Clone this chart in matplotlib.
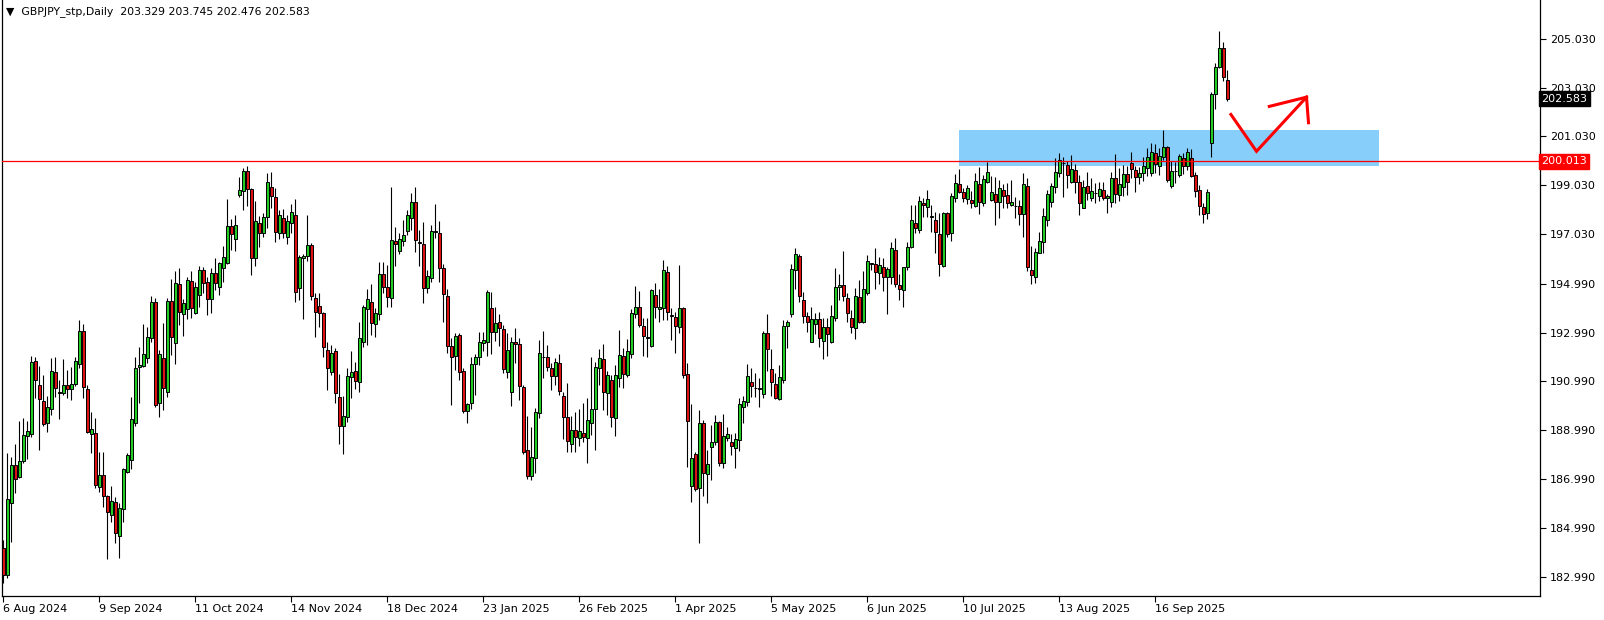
import matplotlib
matplotlib.use('Agg')
import matplotlib.pyplot as plt
import matplotlib.transforms as mtransforms
from matplotlib.patches import Rectangle
import numpy as np

symbol_title = '\u25bc  GBPJPY_stp,Daily  203.329 203.745 202.476 202.583'

# daily candles, 6 Aug 2024 .. 10 Oct 2025
opens = [
    184.16, 183.06, 186.00, 187.57, 187.06, 187.75, 188.77, 188.83, 191.82, 190.83,
    190.19, 189.28, 189.85, 191.38, 190.56, 190.51, 190.83, 190.67, 190.87, 191.69,
    193.06, 190.67, 188.83, 188.87, 186.65, 187.16, 186.30, 185.52, 186.05, 184.66,
    185.75, 187.28, 187.77, 189.28, 191.60, 191.63, 191.94, 192.76, 194.26, 190.10,
    191.94, 190.57, 194.29, 192.58, 194.97, 193.74, 193.95, 195.11, 193.81, 194.53,
    195.56, 195.05, 194.36, 195.42, 194.88, 195.63, 195.86, 197.36, 196.84, 198.65,
    198.81, 199.62, 198.86, 196.06, 197.50, 197.09, 197.72, 198.95, 198.54, 197.06,
    197.67, 196.92, 197.47, 197.81, 194.81, 196.04, 196.13, 196.58, 194.40, 194.08,
    193.78, 192.28, 191.39, 192.24, 190.34, 189.18, 189.55, 191.19, 191.42, 190.98,
    192.62, 193.95, 194.26, 193.33, 193.74, 195.38, 194.88, 194.40, 196.75, 196.35,
    196.76, 197.17, 197.67, 198.33, 196.70, 196.62, 194.81, 195.21, 197.13, 197.06,
    195.63, 194.51, 192.44, 192.05, 192.90, 191.42, 189.80, 190.10, 191.69, 191.98,
    192.58, 192.60, 193.99, 193.03, 193.41, 193.13, 191.39, 190.57, 192.59, 192.51,
    190.78, 188.18, 187.10, 187.84, 189.68, 191.98, 191.98, 191.53, 191.23, 191.73,
    190.40, 189.52, 188.41, 189.00, 188.66, 188.88, 188.66, 189.30, 189.85, 191.53,
    191.91, 190.50, 191.05, 189.48, 191.15, 192.03, 191.26, 192.10, 193.74, 194.03,
    193.28, 192.80, 192.44, 194.53, 193.95, 193.99, 195.46, 193.69, 193.65, 193.21,
    193.99, 191.28, 186.72, 188.01, 186.61, 189.28, 187.18, 188.29, 188.53, 189.32,
    187.64, 188.66, 188.53, 188.28, 188.59, 189.96, 190.16, 190.95, 190.74, 190.71,
    190.46, 192.96, 191.49, 190.87, 190.26, 191.05, 193.26, 193.75, 195.56, 196.13,
    194.33, 193.67, 192.62, 193.33, 193.54, 192.66, 193.21, 192.60, 193.58, 194.85,
    194.94, 194.40, 193.58, 193.17, 194.44, 193.44, 194.60, 195.82, 195.81, 195.42,
    195.66, 195.28, 195.26, 196.38, 194.94, 194.74, 195.67, 196.49, 197.50, 197.20,
    198.32, 198.12, 197.74, 197.61, 197.03, 195.72, 197.88, 197.06, 198.49, 199.07,
    198.77, 198.47, 198.43, 198.18, 199.07, 198.29, 199.15, 198.43, 198.66, 198.36,
    198.84, 198.63, 198.22, 198.18, 198.18, 197.84, 198.99, 195.56, 195.28, 196.27,
    196.72, 197.61, 198.36, 198.97, 199.52, 199.93, 199.86, 199.18, 199.66, 199.18,
    198.11, 198.99, 198.50, 198.70, 198.59, 198.84, 198.49, 198.36, 199.31, 198.63,
    198.97, 199.49, 199.93, 199.66, 199.38, 199.52, 199.75, 199.52, 200.34, 199.83,
    200.20, 200.58, 199.01, 199.61, 199.45, 200.13, 199.83, 200.13, 199.45, 198.83,
    198.13, 197.88, 200.78, 202.77, 203.86, 204.64, 203.329,
]
highs = [
    184.50, 188.05, 187.91, 188.43, 189.35, 189.51, 189.35, 192.04, 192.01, 191.64,
    191.26, 190.40, 191.94, 192.01, 191.05, 191.90, 191.46, 191.60, 192.01, 193.51,
    193.35, 190.85, 189.75, 189.48, 188.12, 188.12, 186.34, 186.71, 186.27, 186.00,
    187.43, 188.05, 190.37, 192.01, 192.42, 193.33, 193.21, 194.50, 194.40, 192.28,
    193.37, 194.43, 195.18, 195.52, 195.63, 194.36, 195.29, 195.52, 195.08, 195.72,
    195.70, 195.29, 195.63, 196.04, 195.90, 196.54, 198.47, 197.63, 197.81, 199.38,
    199.73, 199.82, 198.90, 198.39, 197.77, 197.88, 199.52, 199.56, 198.90, 198.02,
    198.04, 197.81, 198.25, 198.47, 196.17, 196.20, 197.81, 196.65, 194.60, 194.60,
    193.85, 192.62, 192.49, 192.35, 191.30, 190.40, 191.53, 192.24, 191.80, 193.41,
    194.12, 194.78, 194.98, 193.99, 195.87, 195.87, 195.76, 198.97, 197.31, 197.09,
    197.61, 198.02, 198.73, 198.95, 197.20, 197.51, 195.56, 197.40, 198.26, 197.57,
    195.79, 194.78, 192.76, 192.96, 192.96, 191.56, 190.10, 192.01, 192.10, 193.00,
    193.00, 194.74, 194.64, 194.03, 193.74, 193.29, 192.99, 192.83, 193.17, 192.76,
    190.85, 189.58, 189.11, 189.89, 192.69, 193.07, 192.49, 191.76, 191.97, 192.12,
    190.57, 190.91, 189.58, 189.73, 189.86, 190.09, 190.30, 192.01, 191.78, 192.31,
    192.53, 191.42, 191.26, 191.67, 193.10, 192.38, 192.72, 193.95, 194.90, 194.70,
    193.58, 193.58, 194.78, 195.01, 194.77, 195.97, 195.72, 193.99, 193.85, 195.76,
    194.06, 191.73, 190.07, 188.11, 189.82, 189.41, 188.18, 189.21, 189.62, 189.38,
    189.66, 189.14, 188.84, 188.89, 190.30, 190.41, 191.71, 191.56, 191.32, 191.15,
    193.06, 193.75, 192.32, 191.32, 191.66, 193.51, 193.51, 195.80, 196.45, 196.20,
    194.67, 193.85, 194.06, 193.81, 193.85, 193.58, 193.58, 194.12, 195.63, 195.40,
    196.34, 194.63, 193.92, 194.81, 195.15, 195.53, 196.17, 195.86, 196.45, 196.10,
    196.04, 195.69, 196.72, 196.86, 195.38, 195.69, 196.72, 198.22, 198.22, 198.59,
    198.49, 198.84, 198.22, 197.95, 197.88, 197.95, 197.92, 198.73, 199.49, 199.70,
    198.90, 199.04, 198.81, 199.55, 199.79, 199.45, 199.99, 199.41, 199.35, 199.25,
    199.08, 199.14, 199.25, 198.54, 198.43, 199.55, 199.31, 196.54, 196.45, 197.13,
    198.08, 198.84, 199.11, 200.13, 200.34, 200.20, 200.04, 200.27, 199.90, 199.45,
    199.25, 199.59, 199.31, 199.11, 199.18, 199.18, 198.67, 199.56, 200.31, 199.72,
    199.86, 199.82, 200.38, 199.83, 199.79, 200.17, 200.54, 200.75, 200.72, 200.54,
    201.29, 200.64, 200.04, 200.00, 200.30, 200.34, 200.54, 200.50, 199.59, 199.04,
    198.29, 198.88, 202.86, 204.05, 205.35, 204.89, 203.745,
]
lows = [
    182.72, 182.93, 184.43, 186.44, 187.02, 187.64, 187.82, 188.73, 190.33, 188.20,
    189.17, 188.91, 189.60, 190.37, 189.47, 190.44, 190.33, 190.23, 190.81, 191.53,
    190.30, 188.87, 188.05, 186.61, 186.48, 185.86, 183.70, 185.25, 184.36, 183.75,
    185.25, 187.23, 187.39, 189.17, 190.10, 191.60, 191.74, 192.62, 189.96, 189.55,
    189.82, 190.37, 192.08, 191.71, 193.30, 192.85, 193.54, 193.58, 193.76, 194.06,
    194.63, 193.72, 193.81, 194.74, 194.53, 195.08, 195.81, 196.38, 196.35, 198.54,
    198.02, 198.18, 195.35, 195.72, 196.49, 196.92, 197.29, 198.08, 196.72, 196.83,
    196.88, 196.62, 197.06, 194.26, 194.33, 193.54, 195.93, 194.33, 192.83, 193.24,
    192.01, 190.64, 191.26, 190.12, 188.43, 188.02, 189.34, 190.30, 190.68, 190.57,
    192.42, 192.49, 192.90, 192.83, 193.51, 194.63, 194.06, 194.03, 195.74, 196.21,
    196.55, 196.99, 197.20, 196.31, 195.74, 194.19, 194.63, 195.08, 196.86, 195.08,
    193.44, 192.17, 190.03, 191.46, 191.05, 189.69, 189.30, 189.85, 190.44, 191.67,
    192.25, 192.03, 192.12, 192.66, 192.44, 191.35, 191.12, 189.98, 191.73, 190.23,
    188.02, 187.00, 186.95, 187.23, 189.48, 191.15, 191.43, 190.64, 190.85, 190.44,
    188.62, 188.11, 188.11, 188.11, 188.36, 188.52, 187.64, 188.80, 188.18, 190.85,
    189.82, 189.62, 189.14, 188.77, 190.78, 190.71, 191.16, 191.94, 193.58, 193.21,
    192.03, 191.98, 192.39, 193.58, 193.44, 193.51, 193.51, 192.69, 192.17, 192.96,
    191.12, 187.50, 186.04, 186.52, 184.36, 186.30, 186.00, 186.95, 188.39, 187.54,
    187.43, 188.56, 187.98, 187.43, 188.16, 189.28, 189.99, 190.37, 190.37, 189.96,
    190.33, 191.43, 190.41, 190.26, 190.23, 190.91, 192.35, 193.65, 194.77, 194.26,
    193.40, 193.03, 192.62, 192.92, 192.39, 191.90, 192.05, 192.58, 193.48, 194.33,
    194.29, 193.41, 192.99, 192.72, 193.37, 193.40, 194.53, 195.56, 194.77, 194.98,
    194.71, 193.74, 194.98, 194.87, 194.33, 194.03, 195.56, 196.45, 197.09, 197.06,
    197.74, 197.74, 197.13, 196.27, 195.33, 195.70, 196.90, 196.76, 198.36, 198.73,
    198.36, 198.25, 198.08, 198.15, 197.85, 198.18, 199.11, 198.40, 197.40, 197.70,
    198.08, 198.08, 198.18, 197.70, 197.40, 196.92, 195.53, 194.98, 195.04, 196.24,
    196.24, 197.36, 198.13, 198.73, 199.38, 198.56, 198.90, 199.11, 198.73, 197.81,
    198.08, 198.43, 198.40, 198.29, 198.39, 198.43, 197.91, 198.13, 198.29, 198.40,
    198.59, 198.63, 199.34, 198.77, 199.08, 199.22, 199.41, 199.42, 199.52, 199.45,
    200.07, 199.18, 198.93, 199.14, 199.38, 199.48, 199.66, 199.36, 198.56, 197.81,
    197.47, 197.65, 200.20, 202.14, 203.82, 203.31, 202.476,
]
closes = [
    183.06, 186.16, 187.57, 186.98, 187.75, 188.80, 188.96, 191.79, 191.04, 190.29,
    189.26, 189.95, 191.42, 190.74, 190.51, 190.83, 190.67, 190.87, 191.82, 193.06,
    190.75, 188.91, 189.03, 186.75, 187.16, 186.30, 185.63, 186.08, 184.77, 185.80,
    187.39, 187.98, 189.44, 191.53, 191.65, 192.10, 192.80, 194.26, 190.03, 192.12,
    190.71, 194.29, 192.83, 195.01, 193.85, 194.19, 195.15, 193.99, 194.85, 195.56,
    195.04, 194.36, 195.42, 195.01, 195.83, 196.10, 197.36, 197.03, 197.40, 198.84,
    199.62, 198.86, 196.06, 197.57, 197.09, 197.72, 199.15, 198.60, 197.13, 197.81,
    197.06, 197.57, 197.92, 194.67, 196.10, 196.13, 196.58, 194.51, 193.85, 193.78,
    192.42, 191.53, 192.17, 190.53, 189.18, 189.58, 191.21, 191.38, 191.02, 192.76,
    194.06, 194.36, 193.40, 193.78, 195.38, 194.88, 194.47, 196.79, 196.61, 196.83,
    196.99, 197.81, 198.33, 196.79, 196.68, 194.81, 195.31, 197.16, 197.14, 195.63,
    194.56, 192.46, 192.01, 192.85, 191.37, 189.80, 190.07, 191.69, 192.01, 192.60,
    192.69, 194.64, 193.03, 193.40, 193.17, 191.49, 192.28, 192.62, 192.54, 190.82,
    188.11, 187.10, 187.91, 189.75, 192.14, 191.98, 191.60, 191.23, 191.78, 190.61,
    189.52, 188.57, 189.00, 188.70, 188.96, 188.73, 189.41, 189.85, 191.57, 191.94,
    190.55, 191.26, 189.55, 191.26, 192.07, 191.28, 192.24, 193.78, 194.03, 193.30,
    192.87, 192.79, 194.74, 194.03, 194.03, 195.56, 193.85, 193.69, 193.26, 193.99,
    191.26, 189.38, 187.84, 186.57, 189.28, 187.23, 187.59, 188.53, 189.32, 187.64,
    188.77, 188.82, 188.35, 188.62, 190.05, 190.19, 191.22, 190.82, 190.72, 190.67,
    192.96, 192.31, 190.95, 190.33, 191.16, 193.26, 193.44, 195.60, 196.21, 194.51,
    193.69, 193.44, 193.54, 193.54, 192.79, 193.21, 192.92, 193.67, 194.85, 194.94,
    194.50, 193.78, 193.24, 194.51, 193.44, 194.78, 195.93, 195.82, 195.49, 195.76,
    195.28, 195.60, 196.45, 194.98, 194.77, 195.67, 196.49, 197.61, 197.26, 198.38,
    198.22, 198.47, 197.74, 197.10, 195.79, 197.88, 197.02, 198.59, 199.11, 198.77,
    198.52, 198.90, 198.29, 199.20, 198.36, 199.27, 199.56, 198.74, 198.36, 198.90,
    198.59, 198.32, 198.33, 198.18, 197.85, 199.07, 195.69, 195.35, 196.28, 196.75,
    197.77, 198.67, 199.00, 199.56, 200.06, 199.93, 199.45, 199.70, 199.18, 198.29,
    198.97, 198.73, 198.81, 198.70, 198.86, 198.52, 198.59, 199.31, 198.66, 199.08,
    199.49, 199.15, 199.70, 199.38, 199.52, 199.82, 200.18, 200.41, 199.89, 200.23,
    200.58, 199.25, 199.61, 199.62, 200.23, 199.83, 200.38, 199.41, 198.81, 198.19,
    197.85, 198.74, 202.77, 203.86, 204.64, 203.45, 202.583,
]

date_labels = ['6 Aug 2024', '9 Sep 2024', '11 Oct 2024', '14 Nov 2024', '18 Dec 2024',
               '23 Jan 2025', '26 Feb 2025', '1 Apr 2025', '5 May 2025', '6 Jun 2025',
               '10 Jul 2025', '13 Aug 2025', '16 Sep 2025']
bars_per_label = 24
price_ticks = [205.030, 203.030, 201.030, 199.030, 197.030, 194.990,
               192.990, 190.990, 188.990, 186.990, 184.990, 182.990]

level = 200.013
last_price = 202.583
zone_bars = [238.8, 343.9]
zone_prices = [199.835, 201.30]
# hand drawn arrow: down into the zone, then up
arrow_bars = [306.9, 313.3, 325.8]
arrow_prices = [201.93, 200.42, 202.64]
head_bars = [316.5, 325.8, 326.3]
head_prices = [202.26, 202.64, 201.59]

o = np.array(opens)
h = np.array(highs)
l = np.array(lows)
c = np.array(closes)
idx = np.arange(len(c))

W, H = 1604, 620
fig = plt.figure(figsize=(W / 100, H / 100), dpi=100)
fig.patch.set_facecolor('white')
ax = fig.add_axes([2 / W, 24 / H, 1538 / W, 596 / H])
ax.set_xlim(-0.325, 384.175)
ax.set_ylim(182.20, 206.62)

# support zone + level
ax.add_patch(Rectangle((zone_bars[0], zone_prices[0]), zone_bars[1] - zone_bars[0],
                       zone_prices[1] - zone_prices[0], facecolor='#87cefa',
                       edgecolor='none', zorder=0))

# candles
up = c >= o
body_lo = np.minimum(o, c)
body_h = np.maximum(np.abs(c - o), 0.02)
ax.vlines(idx, l, h, color='black', lw=0.8, zorder=2)
ax.bar(idx, body_h, bottom=body_lo, width=0.62,
       color=np.where(up, '#22cc22', '#dd1111'), edgecolor='black', linewidth=0.7, zorder=3)

ax.axhline(level, color='red', lw=0.9, zorder=4)
ax.plot(arrow_bars, arrow_prices, color='red', lw=2.2, solid_joinstyle='miter', zorder=5)
ax.plot(head_bars, head_prices, color='red', lw=2.2, solid_joinstyle='miter', zorder=5)

# axes look
ax.spines['top'].set_visible(False)
for s in ['left', 'right', 'bottom']:
    ax.spines[s].set_linewidth(0.9)
ax.yaxis.tick_right()
ax.set_yticks(price_ticks)
ax.set_yticklabels(['%.3f' % v for v in price_ticks])
ax.tick_params(axis='y', length=4, width=0.8, pad=3, labelsize=8)
ax.set_xticks(idx[::bars_per_label][:len(date_labels)])
ax.set_xticklabels(date_labels)
ax.tick_params(axis='x', length=4, width=0.8, pad=2, labelsize=8)
for lab in ax.get_xticklabels():
    lab.set_ha('left')

# price tags on the scale
tr = mtransforms.blended_transform_factory(ax.transAxes, ax.transData)
ax.text(1.0008, last_price, '202.583', transform=tr, color='white', fontsize=8,
        va='center', ha='left', zorder=10, clip_on=False,
        bbox=dict(boxstyle='square,pad=0.22', fc='black', ec='black'))
ax.text(1.0008, level, '200.013', transform=tr, color='white', fontsize=8,
        va='center', ha='left', zorder=10, clip_on=False,
        bbox=dict(boxstyle='square,pad=0.22', fc='red', ec='red'))

fig.text(6 / W, 1 - 12 / H, symbol_title, fontsize=7.8, va='center', ha='left')

fig.savefig('out.png', dpi=100)
